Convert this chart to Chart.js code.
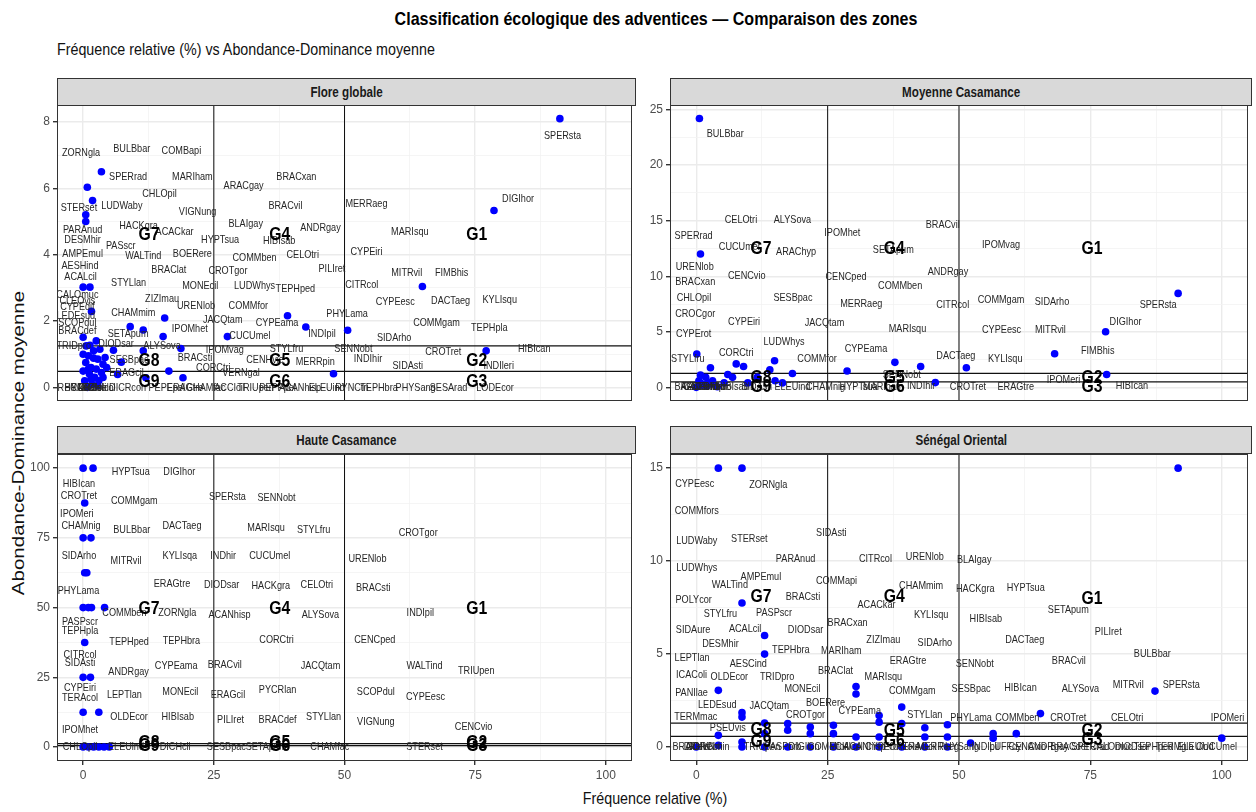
<!DOCTYPE html>
<html>
<head>
<meta charset="utf-8">
<script src="https://cdn.jsdelivr.net/npm/chart.js@4.4.1/dist/chart.umd.min.js"></script>
<style>
body{margin:0;background:#fff;width:1256px;height:812px;position:relative;overflow:hidden;font-family:"Liberation Sans",Arial,sans-serif;}
.t{position:absolute;white-space:nowrap;color:#000}
.strip{position:absolute;background:#d9d9d9;border:1px solid #333;box-sizing:border-box;text-align:center;font-weight:bold;font-size:14px;color:#1a1a1a}
.strip span{display:inline-block;transform:scaleX(0.83)}
canvas{position:absolute}
</style>
</head>
<body>
<div class="t" style="left:256px;width:800px;top:8px;line-height:22px;text-align:center;font-weight:bold;font-size:19px;transform:scaleX(0.845)">Classification écologique des adventices — Comparaison des zones</div>
<div class="t" style="left:57px;top:40px;line-height:20px;font-size:17px;color:#111;transform:scaleX(0.84);transform-origin:left center">Fréquence relative (%) vs Abondance-Dominance moyenne</div>
<div class="t" style="left:-182px;top:431px;width:400px;height:24px;line-height:24px;text-align:center;font-size:20.5px;color:#111;transform:rotate(-90deg) scaleY(0.84)">Abondance-Dominance moyenne</div>
<div class="t" style="left:455px;width:400px;top:789px;line-height:20px;text-align:center;font-size:17px;color:#111;transform:scaleX(0.84)">Fréquence relative (%)</div>

<div class="strip" style="left:57px;top:78px;width:579px;height:28px;line-height:26px"><span>Flore globale</span></div>
<div class="strip" style="left:670px;top:78px;width:582px;height:28px;line-height:26px"><span>Moyenne Casamance</span></div>
<div class="strip" style="left:57px;top:426px;width:579px;height:28px;line-height:26px"><span>Haute Casamance</span></div>
<div class="strip" style="left:670px;top:426px;width:582px;height:28px;line-height:26px"><span>Sénégal Oriental</span></div>

<canvas id="p1" width="609" height="316" style="left:27px;top:95px"></canvas>
<canvas id="p2" width="612" height="316" style="left:640px;top:95px"></canvas>
<canvas id="p3" width="609" height="347" style="left:27px;top:444px"></canvas>
<canvas id="p4" width="612" height="347" style="left:640px;top:444px"></canvas>

<script>
const xTicks = [0, 25, 50, 75, 100];
const xRange = [-5, 105];
const freqCuts = [25, 50];

// Flore globale
const globalYTicks = [0, 2, 4, 6, 8];
const globalYRange = [-0.405, 8.505];
const globalCuts = [1.25, 0.48];
const globalPts = [
  [91.2, 8.1], [78.6, 5.33], [64.9, 3.04], [50.6, 1.72], [77.1, 1.1], [47.9, 0.41],
  [3.5, 6.5], [0.8, 6.03], [1.8, 5.63], [0.5, 5.2], [0.5, 5.0], [0, 3.02], [1.3, 3.02], [1.6, 2.29],
  [15.6, 2.09], [9.0, 1.83], [11.5, 1.73], [15.3, 1.53], [27.6, 1.53], [39.1, 2.16], [42.6, 1.82],
  [18.7, 1.17], [5.8, 1.12], [11.5, 1.1], [7.3, 0.76], [16.4, 0.49], [6.6, 0.39], [12.0, 0.29], [19.1, 0.29],
  [0, 1.51], [1.3, 1.27], [2.5, 1.4], [3.2, 1.15], [0, 1.0], [1.0, 0.95], [2.0, 0.88], [3.8, 0.7],
  [0.5, 0.75], [1.5, 0.6], [2.5, 0.55], [3.5, 0.45], [0, 0.49], [1.2, 0.4], [2.2, 0.3], [3.0, 0.2],
  [0.3, 0.2], [1.7, 0.1], [2.8, 0.05], [0.8, 0.0], [3.8, 0.3], [4.5, 0.6], [2.0, 1.1], [0.6, 1.25],
  [1.0, 0.55], [2.8, 0.85], [4.2, 0.9], [1.5, 0.25]
];
const globalLabels = [
  ['ZORNgla', -0.4, 7.06], ['BULBbar', 9.3, 7.2], ['COMBapi', 18.8, 7.14], ['SPERrad', 8.6, 6.33],
  ['MARIham', 20.9, 6.35], ['ARACgay', 30.7, 6.07], ['BRACxan', 40.8, 6.33], ['CHLOpil', 14.6, 5.82],
  ['STERset', -0.8, 5.4], ['LUDWaby', 7.4, 5.47], ['VIGNung', 21.9, 5.3], ['BRACvil', 38.7, 5.47],
  ['BLAIgay', 31.1, 4.92], ['PARAnud', -0.1, 4.74], ['HACKgra', 10.6, 4.85], ['ACACkar', 17.5, 4.67],
  ['ANDRgay', 45.4, 4.8], ['DESMhir', -0.1, 4.43], ['HYPTsua', 26.2, 4.45], ['HIBIsab', 37.5, 4.41],
  ['PASscr', 7.2, 4.26], ['AMPEmul', -0.1, 4.01], ['WALTind', 11.5, 3.95], ['BOERere', 20.9, 4.01],
  ['COMMben', 32.8, 3.9], ['CELOtri', 42.0, 3.99], ['AESHind', -0.6, 3.65], ['BRAClat', 16.4, 3.55],
  ['CROTgor', 27.7, 3.5], ['PILIret', 47.6, 3.58], ['ACALcil', -0.5, 3.34], ['STYLlan', 8.7, 3.16],
  ['MONEcil', 22.4, 3.07], ['LUDWhys', 32.8, 3.05], ['TEPHped', 40.6, 2.97], ['CALOmuc', -1.1, 2.77],
  ['ZIZImau', 15.1, 2.66], ['URENlob', 21.6, 2.46], ['COMMfor', 31.6, 2.46], ['CLEOvis', -1.1, 2.6],
  ['CYPEdif', -1.1, 2.43], ['LEDEsud', -1.4, 2.14], ['CHAMmim', 9.6, 2.24], ['PHYLama', 50.5, 2.21],
  ['JACQtam', 26.7, 2.02], ['CYPEama', 37.1, 1.93], ['INDIpil', 45.7, 1.61], ['SCOPdul', -1.1, 1.95],
  ['BRACdef', -1.1, 1.7], ['SETApum', 8.6, 1.61], ['IPOMhet', 20.4, 1.75], ['CUCUmel', 31.9, 1.56],
  ['TRIDpro', -1.8, 1.25], ['DIODsar', 6.3, 1.31], ['ALYSova', 15.1, 1.25], ['IPOMvag', 27.1, 1.12],
  ['STYLfru', 38.9, 1.17], ['SENNobt', 51.7, 1.17], ['SESBpac', 8.8, 0.83], ['BRACsti', 21.4, 0.88],
  ['CENHvie', 34.8, 0.83], ['MERRpin', 44.4, 0.78], ['CORCtri', 24.9, 0.58], ['VERNgal', 30.2, 0.44],
  ['ERAGcil', 8.3, 0.44],
  ['SPERsta', 91.7, 7.57], ['DIGIhor', 83.2, 5.68], ['MERRaeg', 54.2, 5.53], ['MARIsqu', 62.5, 4.67],
  ['CYPEiri', 54.2, 4.07], ['MITRvil', 61.9, 3.46], ['FIMBhis', 70.5, 3.46], ['CITRcol', 53.3, 3.1],
  ['CYPEesc', 59.7, 2.56], ['DACTaeg', 70.3, 2.59], ['KYLIsqu', 79.7, 2.63], ['COMMgam', 67.6, 1.93],
  ['TEPHpla', 77.7, 1.79], ['SIDArho', 59.5, 1.48], ['HIBIcan', 86.3, 1.17], ['CROTret', 68.9, 1.07],
  ['INDIhir', 54.5, 0.85], ['SIDAsti', 62.1, 0.63], ['INDIleri', 79.5, 0.63],
  ['DICRcon', 8.5, -0.03], ['PEPEpel', 16, -0.03], ['ERAGtre', 19.5, -0.03], ['CHAMfac', 23.5, -0.03],
  ['ACCIcil', 28, -0.03], ['TRIUpen', 33, -0.03], ['PEPPpel', 37.2, -0.03], ['ACANhisp', 41.5, -0.03],
  ['ELEUind', 46.6, -0.03], ['RYNCtri', 51.4, -0.03], ['TEPHbra', 56.6, -0.03], ['PHYSang', 63.6, -0.03],
  ['SESArad', 69.9, -0.03], ['LODEcor', 78.8, -0.03],
  ['BRACdis', 0, -0.03], ['CORColi', 1, -0.03], ['DIGIvel', 2, -0.03], ['ECHIcol', 3, -0.03], ['RHYNmin', -1, -0.03]
];
const globalGroups = [
  ['G1', 75.3, 4.6], ['G4', 37.6, 4.6], ['G7', 12.6, 4.6],
  ['G2', 75.3, 0.8], ['G5', 37.6, 0.8], ['G8', 12.6, 0.8],
  ['G3', 75.3, 0.18], ['G6', 37.6, 0.18], ['G9', 12.6, 0.18]
];

// Moyenne Casamance
const moyenneYTicks = [0, 5, 10, 15, 20, 25];
const moyenneYRange = [-1.21, 25.4];
const moyenneCuts = [1.25, 0.5];
const moyennePts = [
  [0.6, 24.2], [0.8, 12.0], [0.1, 3.0], [0.8, 1.1], [2.7, 1.77], [7.6, 2.11], [9.0, 1.88], [6.0, 1.16],
  [6.9, 0.9], [5.3, 0.4], [3.1, 0.6], [1.8, 0.9], [0.9, 0.35], [9.8, 0.4], [11.6, 0.9], [14.0, 1.59],
  [14.9, 2.4], [15.0, 0.6], [16.4, 0.4], [18.3, 1.25], [28.7, 1.47], [37.8, 2.25], [42.7, 1.88],
  [45.5, 0.43], [91.7, 8.46], [77.9, 5.0], [68.2, 3.03], [51.4, 1.77], [78.1, 1.16],
  [0, 0], [1, 0.2], [2, 0.1], [3, 0.3], [4, 0.05], [0.5, 0.6], [2.2, 0.4]
];
const moyenneLabels = [
  ['BULBbar', 5.5, 22.8], ['CELOtri', 8.5, 15.1], ['ALYSova', 18.3, 15.1], ['SPERrad', -0.5, 13.6],
  ['IPOMhet', 27.8, 13.9], ['BRACvil', 46.9, 14.6], ['CUCUmel', 8.2, 12.6], ['ARAChyp', 19.0, 12.2],
  ['SETApum', 37.5, 12.35], ['IPOMvag', 58, 12.8], ['URENlob', -0.3, 10.86], ['BRACxan', -0.2, 9.47],
  ['CENCvio', 9.6, 10.04], ['CENCped', 28.5, 9.96], ['ANDRgay', 47.9, 10.39], ['COMMben', 38.8, 9.09],
  ['CHLOpil', -0.45, 8.09], ['SESBpac', 18.4, 8.09], ['MERRaeg', 31.4, 7.5], ['CITRcol', 48.8, 7.42],
  ['COMMgam', 58.0, 7.88], ['SIDArho', 67.7, 7.68], ['SPERsta', 87.9, 7.39], ['CROCgor', -0.2, 6.64],
  ['CYPEiri', 9.1, 5.86], ['JACQtam', 24.4, 5.8], ['MARIsqu', 40.2, 5.28], ['CYPEesc', 58.1, 5.14],
  ['MITRvil', 67.4, 5.14], ['DIGIhor', 81.7, 5.86], ['CYPErot', -0.5, 4.85], ['LUDWhys', 16.7, 4.13],
  ['CYPEama', 32.3, 3.5], ['DACTaeg', 49.4, 2.83], ['FIMBhis', 76.4, 3.26], ['KYLIsqu', 58.8, 2.55],
  ['STYLfru', -1.6, 2.6], ['CORCtri', 7.6, 3.12], ['COMMfor', 23, 2.6], ['SENNobt', 39.1, 1.1],
  ['INDIhir', 42.8, 0.15], ['CROTret', 51.7, 0], ['ERAGtre', 60.8, 0], ['IPOMeri', 69.9, 0.67],
  ['HIBIcan', 82.9, 0.15], ['HIBIsab', 6.9, 0], ['SIDAsti', 11.5, 0], ['ELEUind', 18.3, 0],
  ['CHAMnig', 24.6, 0], ['HYPTsua', 30.9, 0], ['MARIham', 35.6, 0],
  ['BRACdef', -0.5, 0], ['AESHind', 0.5, 0], ['CALOmuc', 1.5, 0], ['DESMhir', 2.5, 0], ['TRIDpro', 3.5, 0]
];
const moyenneGroups = [
  ['G1', 75.3, 12.5], ['G4', 37.7, 12.5], ['G7', 12.3, 12.5],
  ['G2', 75.3, 0.9], ['G5', 37.7, 0.9], ['G8', 12.3, 0.9],
  ['G3', 75.3, 0.05], ['G6', 37.7, 0.05], ['G9', 12.3, 0.05]
];

// Haute Casamance
const hauteYTicks = [0, 25, 50, 75, 100];
const hauteYRange = [-5, 105];
const hauteCuts = [1.25, 0.5];
const hautePts = [
  [0, 100], [1.9, 100], [0.3, 87.5], [0, 75], [1.5, 75], [0.3, 62.5], [0.7, 62.5], [0, 50], [1, 50],
  [1.6, 50], [4.1, 50], [0.3, 37.5], [0, 25], [1.4, 25], [0, 12.5], [3, 12.5],
  [0, 0], [1, 0], [2, 0], [3, 0], [4, 0], [5, 0]
];
const hauteLabels = [
  ['HYPTsua', 9.1, 98.5], ['DIGIhor', 18.4, 98.5], ['HIBIcan', -0.8, 94.4], ['CROTret', -0.8, 89.9],
  ['COMMgam', 9.8, 88.1], ['SPERsta', 27.6, 89.8], ['SENNobt', 37.0, 89.4], ['IPOMeri', -1.2, 83.6],
  ['CHAMnig', -0.4, 79.2], ['BULBbar', 9.3, 77.7], ['DACTaeg', 18.9, 79.2], ['MARIsqu', 35, 78.6],
  ['STYLfru', 44.1, 77.9], ['CROTgor', 64.1, 76.9], ['SIDArho', -0.8, 68.5], ['MITRvil', 8.2, 66.7],
  ['KYLIsqa', 18.5, 68.4], ['INDhir', 26.8, 68.4], ['CUCUmel', 35.7, 68.4], ['URENlob', 54.4, 67.6],
  ['ERAGtre', 17.0, 58.6], ['DIODsar', 26.5, 58], ['HACKgra', 35.9, 57.7], ['CELOtri', 44.7, 58],
  ['BRACsti', 55.5, 56.9], ['PHYLama', -0.9, 56], ['COMMben', 7.9, 48.1], ['ZORNgla', 18, 48.1],
  ['ACANhisp', 28, 47.3], ['ALYSova', 45.4, 47.3], ['INDIpil', 64.5, 47.9], ['PASPscr', -0.6, 44.9],
  ['TEPHpla', -0.6, 41.7], ['TEPHped', 8.8, 37.8], ['TEPHbra', 18.8, 38], ['CORCtri', 37, 38.4],
  ['CENCped', 55.8, 38.4], ['CITRcol', -0.6, 33], ['SIDAsti', -0.6, 30.3], ['ANDRgay', 8.7, 27.1],
  ['CYPEama', 17.8, 28.9], ['BRACvil', 27.1, 29.5], ['JACQtam', 45.4, 28.9], ['WALTind', 65.3, 28.9],
  ['TRIUpen', 75.2, 27.4], ['CYPEiri', -0.6, 21.1], ['TERAcol', -0.6, 17.6], ['LEPTlan', 7.9, 18.8],
  ['MONEcil', 18.6, 19.6], ['ERAGcil', 27.7, 18.8], ['PYCRlan', 37.2, 20.3], ['SCOPdul', 56, 19.9],
  ['CYPEesc', 65.5, 18.1], ['OLDEcor', 8.8, 10.8], ['HIBIsab', 18.1, 10.8], ['PILIret', 28.2, 9.8],
  ['BRACdef', 37.2, 9.8], ['STYLlan', 46, 10.8], ['VIGNung', 56, 9], ['CENCvio', 74.7, 7.2],
  ['IPOMhet', -0.6, 6.3], ['CHLOpil', -0.6, 0], ['ELEUind', 8.2, 0], ['DICHcil', 17.6, 0],
  ['SESBpac', 27.4, 0], ['SETApum', 35, 0], ['CHAMfac', 47.2, 0], ['STERset', 65.3, 0]
];
const hauteGroups = [
  ['G1', 75.3, 49.7], ['G4', 37.6, 49.7], ['G7', 12.6, 49.7],
  ['G2', 75.3, 1.5], ['G5', 37.6, 1.5], ['G8', 12.6, 1.5],
  ['G3', 75.3, 0.3], ['G6', 37.6, 0.3], ['G9', 12.6, 0.3]
];

// Sénégal Oriental
const orientalYTicks = [0, 5, 10, 15];
const orientalYRange = [-0.75, 15.75];
const orientalCuts = [1.29, 0.57];
const orientalPts = [
  [4.2, 15], [8.7, 15], [91.7, 15], [8.7, 7.75], [13, 6], [13, 5], [4.2, 3.05], [30.4, 3.25], [30.4, 2.85],
  [87.3, 3.01], [8.7, 1.85], [8.7, 1.61], [13, 1.29], [34.8, 1.7], [34.8, 1.34], [39.1, 2.15], [39.1, 1.26],
  [17.4, 1.26], [17.4, 0.9], [21.7, 1.08], [21.7, 0.72], [26.1, 1.17], [26.1, 0.72], [4.2, 0.63],
  [4.2, 0.09], [8.7, 0.27], [13, 0.72], [30.4, 0.54], [34.8, 0.54], [43.5, 1.04], [43.5, 0.54],
  [47.8, 1.2], [47.8, 0.54], [65.5, 1.8], [52.2, 0.22], [56.5, 0.72], [56.5, 0.48], [60.9, 0.72],
  [100, 0.48], [0, 0], [8.7, 0], [13, 0], [17.4, 0], [21.7, 0], [26.1, 0], [30.4, 0], [34.8, 0],
  [39.1, 0], [43.5, 0], [47.8, 0]
];
const orientalLabels = [
  ['CYPEesc', -0.3, 14.16], ['ZORNgla', 13.7, 14.07], ['COMMfors', 0.1, 12.69], ['LUDWaby', 0.1, 11.1],
  ['STERset', 10.1, 11.17], ['SIDAsti', 25.7, 11.53], ['PARAnud', 18.9, 10.09], ['CITRcol', 34.1, 10.13],
  ['URENlob', 43.5, 10.2], ['BLAIgay', 52.9, 10.04], ['LUDWhys', 0.1, 9.65], ['AMPEmul', 12.3, 9.14],
  ['WALTind', 6.4, 8.7], ['COMMapi', 26.7, 8.93], ['CHAMmim', 42.8, 8.66], ['HACKgra', 53.1, 8.48],
  ['HYPTsua', 62.7, 8.57], ['POLYcor', -0.5, 7.89], ['BRACsti', 20.3, 8.06], ['ACACkar', 34.3, 7.62],
  ['SETApum', 70.8, 7.35], ['STYLfru', 4.6, 7.17], ['PASPscr', 14.8, 7.2], ['KYLIsqu', 44.7, 7.08],
  ['HIBIsab', 55.1, 6.9], ['BRACxan', 28.8, 6.67], ['SIDAure', -0.6, 6.31], ['ACALcil', 9.3, 6.36],
  ['DIODsar', 20.8, 6.31], ['PILIret', 78.4, 6.18], ['ZIZImau', 35.6, 5.77], ['SIDArho', 45.4, 5.59],
  ['DACTaeg', 62.5, 5.77], ['DESMhir', 4.6, 5.52], ['TEPHbra', 18, 5.2], ['MARIham', 27.6, 5.15],
  ['BULBbar', 86.8, 4.98], ['LEPTlan', -0.8, 4.8], ['AESCind', 9.9, 4.48], ['ERAGtre', 40.3, 4.62],
  ['SENNobt', 53, 4.48], ['BRACvil', 70.9, 4.62], ['ICAColi', -0.9, 3.85], ['OLDEcor', 6.3, 3.76],
  ['TRIDpro', 15.4, 3.76], ['BRAClat', 26.5, 4.09], ['MARIsqu', 35.6, 3.76], ['ALYSova', 73.1, 3.14],
  ['MITRvil', 82.2, 3.32], ['SPERsta', 92.3, 3.32], ['HIBIcan', 61.7, 3.19], ['SESBpac', 52.3, 3.14],
  ['MONEcil', 20.2, 3.14], ['COMMgam', 41.1, 3.01], ['PANIlae', -0.9, 2.92], ['LEDEsud', 4, 2.24],
  ['JACQtam', 13.9, 2.2], ['BOERere', 24.6, 2.39], ['CROTgor', 20.8, 1.7], ['CYPEama', 31.1, 1.94],
  ['STYLlan', 43.5, 1.7], ['TERMmac', -0.1, 1.61], ['PHYLama', 52.3, 1.58], ['COMMben', 61.1, 1.58],
  ['CROTret', 70.8, 1.58], ['CELOtri', 82, 1.58], ['IPOMeri', 101.1, 1.58], ['PSEUvis', 6, 1.04],
  ['BRACdis', -1, 0], ['DIGIvel', 0.5, 0], ['CORColi', 1.5, 0], ['RHYNmin', 2.5, 0], ['TRIUpen', 12.5, 0],
  ['PASPorb', 16.5, 0], ['DIGIlon', 20.5, 0], ['COMMfor', 25, 0], ['ECHIcol', 28.5, 0], ['ACANhisp', 32, 0],
  ['CYPErot', 35.5, 0], ['PORTole', 39, 0], ['ERAGcil', 42.5, 0], ['MERRaeg', 46, 0], ['PHYSang', 50, 0],
  ['INDIpil', 55, 0], ['LUFFcyl', 59, 0], ['CENCvio', 63, 0], ['ANDRgay', 67, 0], ['BRACdef', 71, 0],
  ['SPERrad', 75, 0], ['CALOmuc', 79, 0], ['DIODsar', 83, 0], ['TEPHped', 87, 0], ['TERMgla', 91, 0],
  ['ELEUind', 95, 0], ['CUCUmel', 99, 0]
];
const orientalGroups = [
  ['G1', 75.3, 8.0], ['G4', 37.7, 8.06], ['G7', 12.3, 8.06],
  ['G2', 75.3, 0.9], ['G5', 37.7, 0.88], ['G8', 12.3, 0.95],
  ['G3', 75.3, 0.4], ['G6', 37.7, 0.35], ['G9', 12.3, 0.3]
];

const FONT = '"Liberation Sans", Arial, sans-serif';
const SQUISH = 0.83;

// text drawn condensed, like the reference
const squishText = (ctx, t, px, py) => {
  ctx.save();
  ctx.translate(px, py);
  ctx.scale(SQUISH, 1);
  ctx.fillText(t, 0, 0);
  ctx.restore();
};

const textLayer = {
  id: 'textLayer',
  afterDatasetsDraw(chart, args, opts) {
    const {ctx, chartArea: a, scales: {x, y}} = chart;
    ctx.save();
    ctx.beginPath();
    ctx.rect(a.left, a.top, a.width, a.height);
    ctx.clip();
    ctx.textAlign = 'center';
    ctx.textBaseline = 'middle';
    ctx.fillStyle = '#262626';
    ctx.font = '11px ' + FONT;
    opts.labels.forEach(([t, lx, ly]) => squishText(ctx, t, x.getPixelForValue(lx), y.getPixelForValue(ly)));
    ctx.fillStyle = '#000';
    ctx.font = 'bold 19px ' + FONT;
    opts.groups.forEach(([t, lx, ly]) => squishText(ctx, t, x.getPixelForValue(lx), y.getPixelForValue(ly)));
    ctx.restore();
    ctx.save();
    ctx.strokeStyle = '#333';
    ctx.lineWidth = 1;
    ctx.strokeRect(Math.round(a.left) + 0.5, Math.round(a.top) + 0.5, Math.round(a.width) - 1, Math.round(a.height) - 1);
    ctx.restore();
  }
};

const mids = (t) => t.slice(1).map((v, i) => (v + t[i]) / 2);

const makeAxis = (majors, range, isX, show) => {
  const all = [...majors, ...mids(majors)].sort((p, q) => p - q);
  return {
    type: 'linear',
    min: range[0],
    max: range[1],
    afterBuildTicks: (s) => { s.ticks = all.map(v => ({value: v})); },
    afterFit: (s) => { if (isX) s.height = show ? 30 : 0; else s.width = 30; },
    border: {display: false},
    grid: {
      color: (c) => c.tick && majors.includes(c.tick.value) ? '#ebebeb' : '#f3f3f3',
      lineWidth: (c) => c.tick && majors.includes(c.tick.value) ? 1.4 : 0.8,
      drawTicks: show,
      tickLength: 4,
      tickColor: (c) => c.tick && majors.includes(c.tick.value) ? '#333' : 'rgba(0,0,0,0)'
    },
    ticks: {
      display: show,
      autoSkip: false,
      maxRotation: 0,
      padding: 3,
      color: '#4d4d4d',
      font: {family: FONT, size: 12},
      callback: (v) => majors.includes(v) ? String(v) : ''
    }
  };
};

const makePanel = (id, pts, labels, groups, cuts, yRange, yTicks, bottom) => {
  const lineSet = (data, w) => ({
    type: 'line', data, borderColor: '#111', borderWidth: w, pointRadius: 0,
    fill: false, order: 2, clip: false
  });
  const datasets = [
    ...freqCuts.map(c => lineSet([{x: c, y: yRange[0]}, {x: c, y: yRange[1]}], 1)),
    ...cuts.map(c => lineSet([{x: xRange[0], y: c}, {x: xRange[1], y: c}], 1.3)),
    {
      type: 'scatter',
      data: pts.map(([x, y]) => ({x, y})),
      backgroundColor: '#0000ff',
      borderWidth: 0,
      pointRadius: 3.8,
      order: 1
    }
  ];
  new Chart(document.getElementById(id), {
    type: 'scatter',
    data: {datasets},
    options: {
      responsive: false,
      animation: false,
      layout: {padding: {top: 10, right: 0, bottom: 0, left: 0}},
      plugins: {legend: {display: false}, tooltip: {enabled: false}, textLayer: {labels, groups}},
      scales: {
        x: makeAxis(xTicks, xRange, true, bottom),
        y: makeAxis(yTicks, yRange, false, true)
      }
    },
    plugins: [textLayer]
  });
};

makePanel('p1', globalPts, globalLabels, globalGroups, globalCuts, globalYRange, globalYTicks, false);
makePanel('p2', moyennePts, moyenneLabels, moyenneGroups, moyenneCuts, moyenneYRange, moyenneYTicks, false);
makePanel('p3', hautePts, hauteLabels, hauteGroups, hauteCuts, hauteYRange, hauteYTicks, true);
makePanel('p4', orientalPts, orientalLabels, orientalGroups, orientalCuts, orientalYRange, orientalYTicks, true);
</script>
</body>
</html>
